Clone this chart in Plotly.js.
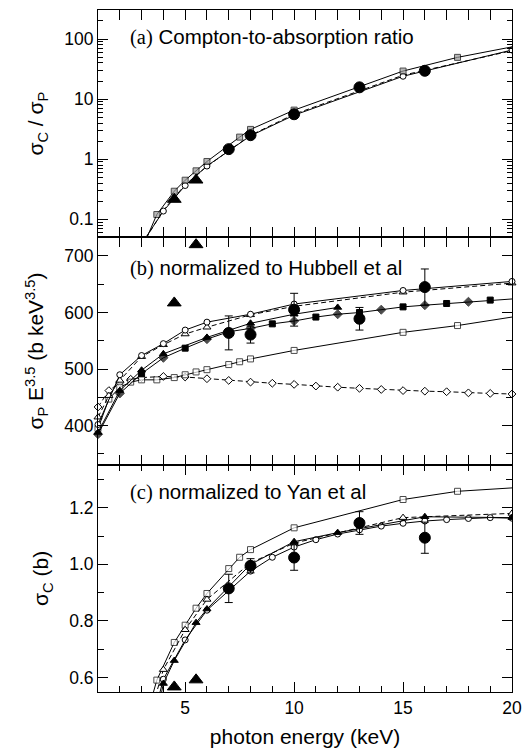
<!DOCTYPE html>
<html><head><meta charset="utf-8">
<script src="https://cdn.plot.ly/plotly-3.0.1.min.js"></script>
<style>html,body{margin:0;padding:0;background:#fff}</style>
</head><body><div id="chart" style="width:529px;height:751px"></div>
<script>
// ---------- Panel (a): Compton-to-absorption ratio ----------
const aSqX   = [3, 3.7, 4.5, 5, 5.5, 6, 7.5, 8, 10, 15, 17.5, 20];
const aSqY   = [0.031, 0.12, 0.293, 0.447, 0.64, 0.916, 2.33, 3.13, 6.56, 29.3, 49.5, 74];
const aCircX = [3, 4, 5, 6, 8, 10, 15, 20];
const aCircY = [0.039, 0.137, 0.365, 0.77, 2.45, 5.4, 24.0, 65.6];
const aTriX  = [3, 4, 5, 6, 8, 10, 15, 20];
const aTriY  = [0.037, 0.142, 0.375, 0.76, 2.5, 5.6, 25.0, 64.0];
const aDotX  = [7, 8, 10, 13, 16];
const aDotY  = [1.47, 2.51, 5.6, 15.7, 29.6];
const aBigTriX = [4.5, 5.5];
const aBigTriY = [0.215, 0.45];

// ---------- Panel (b): normalized to Hubbell et al ----------
const bCircX = [1, 2, 3, 4, 5, 6, 8, 10, 15, 20];
const bCircY = [402, 490, 524, 545, 569, 583, 597, 615, 639, 655];
const bOTriX = [1, 1.5, 2, 3, 4, 5, 6, 8, 10, 15, 20];
const bOTriY = [415, 453, 480, 522, 543, 562, 574, 596, 611, 636, 652];
const bFTriX = [1, 2, 3, 4, 6, 8, 10, 12];
const bFTriY = [388, 462, 498, 527, 556, 581, 597, 609];
const bFDiaX = [1, 2, 4, 6, 8, 10, 12, 14, 16, 18, 20];
const bFDiaY = [385, 457, 520, 553, 572, 585, 597, 605, 613, 619, 624];
const bFSqX  = [3, 5, 7, 9, 11, 13, 15, 17, 19];
const bFSqY  = [492, 537, 566, 580, 592, 600, 610, 616, 622];
const bOSqX  = [1, 1.5, 2, 2.5, 3, 3.7, 4.5, 5, 5.5, 6, 7, 7.5, 8, 10, 15, 17.5, 20];
const bOSqY  = [395, 447, 468, 477, 481, 481, 485, 490, 495, 499, 508, 513, 518, 533, 565, 577, 592];
const bODiaX = [1, 1.5, 2, 2.5, 3, 4, 5, 6, 7, 8, 9, 10, 11, 12, 13, 14, 15, 16, 17, 18, 19, 20];
const bODiaY = [433, 462, 476, 482, 485, 487, 486, 483, 480, 477, 475, 473, 470, 468, 466, 464, 462, 461, 460, 458, 457, 456];
const bDotX  = [7, 8, 10, 13, 16];
const bDotY  = [564, 561, 605, 589, 645];
const bDotErr = [30, 15, 29, 20, 32];
const bBigTriX = [4.5, 5.5];
const bBigTriY = [617, 720];

// ---------- Panel (c): normalized to Yan et al ----------
const cSqX   = [3, 3.7, 4.5, 5, 5.5, 6, 7, 7.5, 8, 10, 15, 17.5, 20];
const cSqY   = [0.40, 0.591, 0.724, 0.785, 0.845, 0.897, 0.985, 1.025, 1.052, 1.129, 1.229, 1.258, 1.27];
const cOTriX = [3, 4, 5, 6, 8, 10, 15, 20];
const cOTriY = [0.37, 0.628, 0.769, 0.876, 1.005, 1.075, 1.165, 1.18];
const cFTriX = [3, 4, 4.5, 5.5, 6, 8, 10, 12, 16, 20];
const cFTriY = [0.20, 0.579, 0.66, 0.794, 0.842, 1.0, 1.08, 1.112, 1.168, 1.165];
const cCircX = [3, 4, 5, 6, 8, 9, 10, 11, 12, 13, 14, 15, 16, 17, 18, 19, 20];
const cCircY = [0.30, 0.594, 0.733, 0.838, 0.976, 1.025, 1.061, 1.087, 1.107, 1.122, 1.135, 1.145, 1.153, 1.158, 1.162, 1.165, 1.163];
const cDotX  = [7, 8, 10, 13, 16];
const cDotY  = [0.915, 0.995, 1.024, 1.146, 1.094];
const cDotErr = [0.05, 0.025, 0.045, 0.04, 0.055];
const cBigTriX = [4.5, 5.5];
const cBigTriY = [0.567, 0.592];

// ---------- helpers ----------
const DASH = '5px,3px';
function series(x, y, ya, sym, o) {
  o = o || {};
  const sz = o.size || 6;
  return {
    type: 'scatter', mode: o.mode || 'lines+markers', x: x, y: y, xaxis: 'x', yaxis: ya,
    line: {color: '#000', width: 1, dash: o.dash || 'solid'},
    marker: {
      symbol: sym,
      size: o.noEnd ? x.map(v => v >= 20 ? 0 : sz) : sz,
      color: o.fill || '#fff',
      line: {color: '#000', width: 1}
    },
    cliponaxis: o.clip === undefined ? true : o.clip,
    showlegend: false, hoverinfo: 'skip'
  };
}
function dots(x, y, ya, err) {
  const t = series(x, y, ya, 'circle', {mode: 'markers', size: 11, fill: '#000', clip: false});
  if (err) t.error_y = {type: 'data', array: err, visible: true, color: '#000', thickness: 1, width: 4};
  return t;
}
function bigTri(x, y, ya) {
  return series(x, y, ya, 'triangle-up', {mode: 'markers', size: 12, fill: '#000', clip: false});
}
// merged line through alternating filled squares / diamonds (panel b)
const bMerged = bFDiaX.map((v, i) => [v, bFDiaY[i]]).concat(bFSqX.map((v, i) => [v, bFSqY[i]]))
  .sort((p, q) => p[0] - q[0]);

const traces = [
  // (a)
  series(aTriX, aTriY, 'y3', 'triangle-up-open', {dash: DASH}),
  series(aCircX, aCircY, 'y3', 'circle'),
  series(aSqX, aSqY, 'y3', 'square', {fill: '#999', noEnd: true}),
  dots(aDotX, aDotY, 'y3'),
  bigTri(aBigTriX, aBigTriY, 'y3'),
  // (b)
  series(bODiaX, bODiaY, 'y2', 'diamond', {dash: DASH, clip: false}),
  series(bOSqX, bOSqY, 'y2', 'square', {clip: false, noEnd: true}),
  series(bOTriX, bOTriY, 'y2', 'triangle-up', {dash: DASH, clip: false, size: 7}),
  series(bCircX, bCircY, 'y2', 'circle', {clip: false}),
  {type: 'scatter', mode: 'lines', x: bMerged.map(p => p[0]), y: bMerged.map(p => p[1]), xaxis: 'x', yaxis: 'y2',
   line: {color: '#000', width: 1}, showlegend: false, hoverinfo: 'skip'},
  series(bFSqX, bFSqY, 'y2', 'square', {mode: 'markers', fill: '#000', clip: false}),
  series(bFDiaX, bFDiaY, 'y2', 'diamond', {mode: 'markers', fill: '#000', size: 7, clip: false, noEnd: true}),
  series(bFTriX, bFTriY, 'y2', 'triangle-up', {fill: '#000', size: 7, clip: false}),
  dots(bDotX, bDotY, 'y2', bDotErr),
  bigTri(bBigTriX, bBigTriY, 'y2'),
  // (c)
  series(cSqX, cSqY, 'y', 'square', {noEnd: true}),
  series(cOTriX, cOTriY, 'y', 'triangle-up', {dash: DASH, size: 7}),
  series(cCircX, cCircY, 'y', 'circle'),
  series(cFTriX, cFTriY, 'y', 'triangle-up', {fill: '#000', size: 7}),
  dots(cDotX, cDotY, 'y', cDotErr),
  bigTri(cBigTriX, cBigTriY, 'y')
];

// log minor ticks for panel (a)
const logMinor = [];
for (let d = -2; d <= 2; d++) for (let k = 2; k <= 9; k++) logMinor.push(k * Math.pow(10, d));

const FONT = 'Liberation Sans, Arial, Helvetica, sans-serif';
const tickFont = {family: FONT, size: 17.5, color: '#000'};
const titleFont = {family: FONT, size: 21, color: '#000'};
const yCommon = {
  anchor: 'x', showline: true, linecolor: '#000', linewidth: 1, mirror: 'ticks',
  ticks: 'inside', ticklen: 10, tickcolor: '#000', tickwidth: 1, automargin: true,
  showgrid: false, zeroline: false, tickfont: tickFont
};

const layout = {
  width: 529, height: 751,
  margin: {l: 98, r: 17, t: 10, b: 59},
  paper_bgcolor: '#fff', plot_bgcolor: '#fff',
  font: {family: FONT, color: '#000'},
  showlegend: false,
  xaxis: {
    range: [1, 20], tickmode: 'linear', tick0: 0, dtick: 5,
    showline: true, linecolor: '#000', linewidth: 1, mirror: 'allticks',
    ticks: 'inside', ticklen: 10, tickcolor: '#000', tickwidth: 1,
    minor: {tickmode: 'linear', tick0: 0, dtick: 1, ticks: 'inside', ticklen: 6, tickcolor: '#000', tickwidth: 1, showgrid: false},
    showgrid: false, zeroline: false, tickfont: tickFont,
    title: {text: 'photon energy (keV)', font: titleFont, standoff: 12}
  },
  yaxis: Object.assign({}, yCommon, {
    domain: [0, 0.3333], range: [0.549, 1.352], tickmode: 'linear', tick0: 0, dtick: 0.2, tickformat: '.1f',
    minor: {tickmode: 'linear', tick0: 0, dtick: 0.1, ticks: 'inside', ticklen: 6, tickcolor: '#000', showgrid: false},
    title: {text: 'σ<sub>C</sub> (b)', font: titleFont, standoff: 14}
  }),
  yaxis2: Object.assign({}, yCommon, {
    domain: [0.3333, 0.6667], range: [331, 733], tickmode: 'linear', tick0: 0, dtick: 100,
    minor: {tickmode: 'linear', tick0: 0, dtick: 50, ticks: 'inside', ticklen: 6, tickcolor: '#000', showgrid: false},
    title: {text: 'σ<sub>P</sub> E<sup>3.5</sup> (b keV<sup>3.5</sup>)', font: titleFont, standoff: 14}
  }),
  yaxis3: Object.assign({}, yCommon, {
    domain: [0.6667, 1], type: 'log', range: [-1.3, 2.483],
    tickmode: 'array', tickvals: [0.1, 1, 10, 100], ticktext: ['0.1', '1', '10', '100'],
    minor: {tickmode: 'array', tickvals: logMinor, ticks: 'inside', ticklen: 5, tickcolor: '#000', showgrid: false},
    title: {text: 'σ<sub>C</sub> / σ<sub>P</sub>', font: titleFont, standoff: 14}
  }),
  annotations: [
    {text: '<span style="font-family:Liberation Serif, Times New Roman, serif">(a)</span> Compton-to-absorption ratio',
     xref: 'x', yref: 'paper', x: 2.38, y: 0.961, xanchor: 'left', yanchor: 'middle', showarrow: false,
     font: {family: FONT, size: 20.5, color: '#000'}},
    {text: '<span style="font-family:Liberation Serif, Times New Roman, serif">(b)</span> normalized to Hubbell et al',
     xref: 'x', yref: 'paper', x: 2.38, y: 0.6215, xanchor: 'left', yanchor: 'middle', showarrow: false,
     font: {family: FONT, size: 20.5, color: '#000'}},
    {text: '<span style="font-family:Liberation Serif, Times New Roman, serif">(c)</span> normalized to Yan et al',
     xref: 'x', yref: 'paper', x: 2.38, y: 0.2937, xanchor: 'left', yanchor: 'middle', showarrow: false,
     font: {family: FONT, size: 20.5, color: '#000'}}
  ]
};

Plotly.newPlot('chart', traces, layout, {staticPlot: true, displayModeBar: false});
</script></body></html>
